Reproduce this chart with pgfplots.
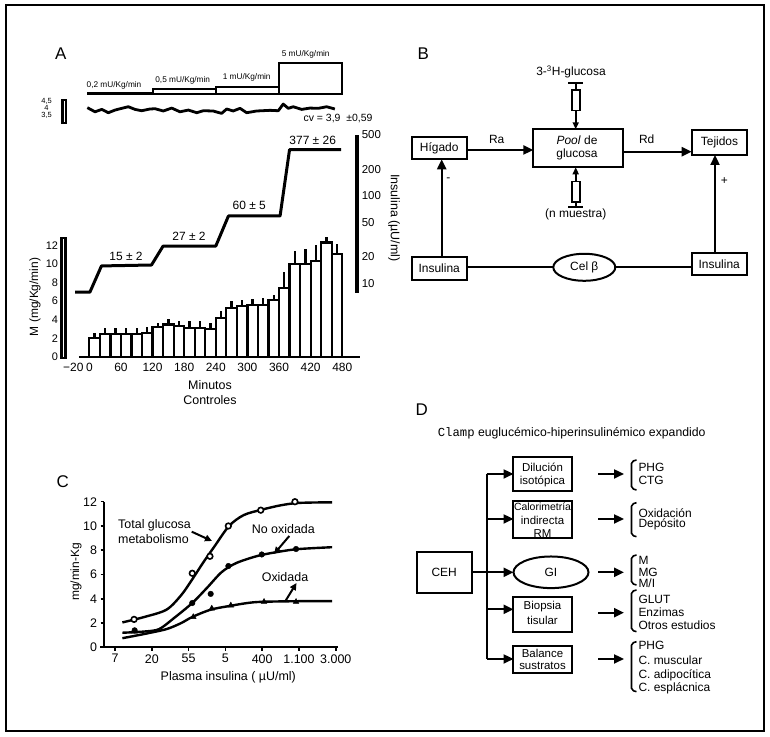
\documentclass[border=0pt]{standalone}
\usepackage{pgfplots}
\pgfplotsset{compat=1.18}
\usepackage{pgfplotstable}
\usepackage{fontspec}
\setmainfont{Liberation Sans}
\setmonofont{Liberation Mono}
\usetikzlibrary{arrows.meta}
\newcommand\fs[1]{\fontsize{#1}{#1}\selectfont}
\pgfplotsset{
  /pgf/number format/assume math mode=true,
  noarr/.style={every inner x axis line/.append style={-},
    every inner y axis line/.append style={-},
    every outer x axis line/.append style={-},
    every outer y axis line/.append style={-}},
  px/.style={anchor=south west, scale only axis},
}
\tikzset{
  barr/.style={-{Triangle[length=10bp,width=9bp]}, line width=2.2bp},
  sarr/.style={-{Triangle[length=7bp,width=6bp]}, line width=1.6bp},
  carr/.style={-{Triangle[length=7bp,width=6.5bp]}, line width=2bp},
}
\pgfplotstableread{
x y e
10 2.0 0.6
30 2.5 0.6
50 2.5 0.6
70 2.5 0.6
90 2.5 0.6
110 2.6 0.6
130 3.2 0.5
150 3.5 0.6
170 3.3 0.6
190 3.1 0.8
210 3.1 0.8
230 3.0 0.7
250 4.2 0.7
270 5.3 0.7
290 5.5 0.6
310 5.6 0.6
330 5.6 0.7
350 6.1 0.6
370 7.4 1.7
390 10.0 1.4
410 10.0 1.6
430 10.3 1.7
450 12.3 0.6
470 11.1 1.0
}\barsA
\begin{document}
\begin{tikzpicture}[x=1bp,y=1bp]
\path[fill=white] (0,0) rectangle (770,737);

% ---------- Panel A: step boxes (insulin infusion) ----------
\begin{axis}[px, at={(78.8bp,643bp)}, width=281.2bp, height=45bp,
  xmin=-20, xmax=513.7, ymin=0, ymax=45, hide axis, clip=false]
\addplot[line width=3bp] coordinates {(-4,0.6)(120,0.6)};
\addplot[line width=2bp, line join=miter] coordinates {(120,0)(120,4.7)(240,4.7)(240,0)(120,0)};
\addplot[line width=2bp, line join=miter] coordinates {(240,0)(240,7.3)(360,7.3)(360,0)(240,0)};
\addplot[line width=2bp, line join=miter] coordinates {(360,0)(360,31.3)(480,31.3)(480,0)(360,0)};
\end{axis}

% ---------- Panel A: glucose trace ----------
\begin{axis}[px, at={(78.8bp,622bp)}, width=281.2bp, height=13.3bp,
  xmin=-20, xmax=513.7, ymin=3.5, ymax=4.5, hide axis, clip=false]
\addplot[line width=2.8bp, line join=round] coordinates {
(-3.8,4.05)(10.8,3.74)(23.5,3.92)(36,3.67)(48.8,3.87)(61.5,4.0)(74,4.12)(86.7,3.92)
(99.4,3.82)(115,3.95)(124.7,3.97)(140.4,3.8)(156.3,4.02)(172,3.74)(188,3.87)(203.8,3.67)
(216.3,3.82)(235,3.8)(251,3.62)(260.7,3.95)(273,3.8)(286,4.0)(298.6,3.67)(317.6,3.8)
(343,3.85)(358.6,3.82)(368,4.32)(377.6,4.0)(387,4.12)(403,3.92)(418.8,4.02)(434.5,4.0)
(450.5,4.12)(466,3.95)};
\end{axis}
\begin{axis}[px, at={(62.5bp,613.7bp)}, width=3.5bp, height=23.3bp,
  xmin=0, xmax=1, ymin=2.876, ymax=4.628, axis line style={line width=2.2bp},
  xtick=\empty, ytick={3.5,4,4.5}, yticklabels={{3,5},4,{4,5}}, ytick style={draw=none},
  yticklabel style={anchor=center, xshift=-16bp, font=\fs{7.5}, inner sep=0pt}]
\end{axis}

% ---------- Panel A: M bars ----------
\begin{axis}[px, at={(78.8bp,380bp)}, width=281.2bp, height=120.9bp,
  xmin=-20, xmax=513.7, ymin=0, ymax=13,
  axis x line=bottom, axis y line=none, noarr,
  x axis line style={line width=2.5bp},
  xtick={0,60,...,480}, xticklabels={0,60,120,180,240,300,360,420,480},
  extra x ticks={-20}, extra x tick labels={−20},
  extra x tick style={xticklabel style={xshift=-5.5bp}},
  xtick style={draw=none}, tick label style={font=\fs{12}},
  xticklabel style={yshift=-1bp}, clip=false]
\addplot[ybar, bar width=20, fill=white, draw=black, line width=2.2bp,
  error bars/.cd, y dir=plus, y explicit, error mark=none,
  error bar style={line width=2.4bp}]
  table[x=x, y=y, y error=e]{\barsA};
\end{axis}
\begin{axis}[px, at={(61.5bp,379bp)}, width=4bp, height=120bp,
  xmin=0, xmax=1, ymin=-0.1075, ymax=12.796, axis line style={line width=2.2bp},
  xtick=\empty, ytick={0,2,...,12}, yticklabels={0,2,4,6,8,10,12},
  ytick style={draw=none}, tick label style={font=\fs{11}}]
\end{axis}

% ---------- Panel A: plasma insulin (log) ----------
\begin{axis}[px, at={(78.8bp,445bp)}, width=281.2bp, height=157bp,
  xmin=-20, xmax=513.7, ymode=log, ymin=7.95, ymax=500, hide axis, clip=false]
\addplot[line width=3bp, line join=round] coordinates {
(-27,7.9)(1,7.9)(23,15.8)(118,16.2)(140,26.7)(240,26.7)(264,59)(362,59)(380,340)(478,340)};
\end{axis}
\begin{axis}[px, at={(355bp,445bp)}, width=3.3bp, height=157bp,
  xmin=0, xmax=1, ymode=log, ymin=7.95, ymax=500,
  axis background/.style={fill=black}, axis line style={line width=0.5bp},
  xtick=\empty, ytick={10,20,50,100,200,500}, yticklabels={10,20,50,100,200,500},
  yticklabel pos=right, ytick style={draw=none}, yminorticks=false,
  tick label style={font=\fs{11.5}}]
\end{axis}

% ---------- Panel C ----------
\begin{axis}[px, at={(104bp,89.7bp)}, width=233.7bp, height=145.6bp,
  xmode=log, xmin=5.48, xmax=3140, ymin=0, ymax=12,
  axis lines=left, noarr, axis line style={line width=2bp},
  x axis line style={shorten <=-4bp},
  xtick={7.389,20.09,54.6,148.4,403.4,1096.6,2981},
  xticklabels={7,20,55,5,400,{1.100},{3.000}},
  ytick={0,2,...,12}, yticklabels={0,2,4,6,8,10,12},
  xminorticks=false, yminorticks=false,
  tick align=outside, major tick length=3.5bp, tick style={line width=1.5bp, black},
  tick label style={font=\fs{12.5}}, clip=false]
% fitted curves
\addplot[line width=2.4bp, smooth, no marks] coordinates {
(9.03,2.05)(16.44,2.5)(29.96,3.1)(44.7,4.3)(60.3,5.6)(81.45,7.0)(109.9,8.3)(164,10.0)
(244.7,10.9)(403.4,11.35)(665.1,11.7)(1096.6,11.9)(2697,11.95)};
\addplot[line width=2.4bp, smooth, no marks] coordinates {
(9.03,1.2)(16.44,1.3)(24.5,1.5)(36.6,2.4)(60.3,3.65)(90.0,4.9)(134.3,6.2)(200.3,6.95)
(365,7.55)(665,7.9)(1097,8.1)(2697,8.25)};
\addplot[line width=2.4bp, smooth, no marks] coordinates {
(9.03,0.75)(16.44,1.1)(29.96,1.5)(44.7,2.0)(60.3,2.5)(99.5,3.1)(164,3.4)(270.4,3.65)
(403.4,3.75)(1096.6,3.8)(2697,3.8)};
% measured points
\addplot[only marks, mark=*, mark size=2.8bp, mark options={fill=white, draw=black, line width=1.6bp}]
 coordinates {(12.4,2.3)(60.3,6.1)(97.5,7.5)(160.8,10.0)(387.9,11.3)(982,12.0)};
\addplot[only marks, mark=*, mark size=2.8bp, mark options={fill=black, draw=black}]
 coordinates {(12.6,1.4)(60.3,3.65)(99.5,4.4)(161,6.7)(399,7.65)(1012,8.1)};
\addplot[only marks, mark=triangle*, mark size=3.3bp, mark options={fill=black, draw=black}]
 coordinates {(12.6,1.3)(62,2.5)(102.5,3.2)(172,3.45)(424,3.75)(1012,3.75)};
\end{axis}

% ---------- text and diagrams (pixel coordinates, y downward) ----------
\begin{scope}[x=1bp, y=-1bp, yshift=737bp]
\draw[line width=1.2bp] (6,5) rectangle (764,731);

% Panel A texts
\node[font=\fs{17}, inner sep=0] at (60.7,54) {A};
\node[font=\fs{8.3}, inner sep=0] at (114,85) {0,2 mU/Kg/min};
\node[font=\fs{8.3}, inner sep=0] at (182.7,80.7) {0,5 mU/Kg/min};
\node[font=\fs{8.3}, inner sep=0] at (246.7,77.3) {1 mU/Kg/min};
\node[font=\fs{8.3}, inner sep=0] at (305.7,54) {5 mU/Kg/min};
\node[font=\fs{10.5}, inner sep=0] at (338,119) {cv = 3,9 \ ±0,59};
\node[font=\fs{12}, inner sep=0] at (126,256) {15 ± 2};
\node[font=\fs{12}, inner sep=0] at (189,236) {27 ± 2};
\node[font=\fs{12}, inner sep=0] at (249.3,205) {60 ± 5};
\node[font=\fs{12}, inner sep=0] at (312.7,140) {377 ± 26};
\node[font=\fs{12.5}, inner sep=0] at (210,385) {Minutos};
\node[font=\fs{12.5}, inner sep=0] at (210,400) {Controles};
\node[font=\fs{12}, inner sep=0, rotate=90] at (35,297) {M (mg/Kg/min)};
\node[font=\fs{12.5}, inner sep=0, rotate=-90] at (394,218) {Insulina (µU/ml)};

% Panel B
\begin{scope}[font=\fs{12}]
\node[font=\fs{17}, inner sep=0] at (423.3,53.3) {B};
\node[inner sep=0] at (571,72.3) {3-\textsuperscript{3}H-glucosa};
\draw[line width=2bp] (411.7,136.7) rectangle (466.7,159.3);
\node[inner sep=0] at (439.2,148) {Hígado};
\draw[line width=2bp] (533.3,129.3) rectangle (623.3,167.3);
\node[inner sep=0] at (577,140) {\textit{Pool} de};
\node[inner sep=0] at (577,154) {glucosa};
\draw[line width=2bp] (691.7,130) rectangle (747.3,155);
\node[inner sep=0] at (719.5,142.5) {Tejidos};
\draw[line width=2bp] (411.7,257.3) rectangle (466.7,280);
\node[inner sep=0] at (439.2,268.7) {Insulina};
\draw[line width=2bp] (691.7,253.3) rectangle (746.7,275);
\node[inner sep=0] at (719.2,264.2) {Insulina};
\draw[line width=2bp] (584.3,267.3) ellipse [x radius=31bp, y radius=13.5bp];
\node[inner sep=0] at (584.3,267.3) {Cel β};
\draw[line width=2bp] (466.7,267.3) -- (553.3,267.3);
\draw[line width=2bp] (615.3,267.3) -- (691.7,267.3);
\draw[barr] (466.7,150) -- (533.3,150);
\draw[barr] (623.3,151.7) -- (691.7,151.7);
\draw[barr] (441.7,257.3) -- (441.7,159.3);
\draw[barr] (715,253.3) -- (715,155);
\node[inner sep=0] at (496.7,139) {Ra};
\node[inner sep=0] at (646.7,139) {Rd};
\node[inner sep=0] at (448.3,180) {-};
\node[inner sep=0] at (724.3,181) {+};
% syringes
\draw[line width=1.8bp] (568,83.3) -- (583,83.3);
\draw[line width=1.6bp] (575.7,83.3) -- (575.7,90);
\draw[line width=1.6bp] (571.7,90) rectangle (580,110.7);
\draw[sarr] (575.7,110.7) -- (575.7,129.3);
\draw[sarr] (575.7,181.7) -- (575.7,167.3);
\draw[line width=1.6bp] (571.7,181.7) rectangle (580,202.3);
\draw[line width=1.6bp] (575.7,202.3) -- (575.7,206.7);
\draw[line width=1.8bp] (568,206.7) -- (583,206.7);
\node[inner sep=0] at (575.7,214.5) {(n muestra)};
\end{scope}

% Panel C texts
\node[font=\fs{17}, inner sep=0] at (62.7,481.7) {C};
\node[font=\fs{12.5}, inner sep=0, anchor=west] at (118,525.7) {Total glucosa};
\node[font=\fs{12.5}, inner sep=0, anchor=west] at (118,539.3) {metabolismo};
\node[font=\fs{12.5}, inner sep=0] at (283.3,529.3) {No oxidada};
\node[font=\fs{12.5}, inner sep=0] at (285,577.3) {Oxidada};
\draw[carr] (191.7,531.7) -- (212,541);
\draw[carr] (289.3,536) -- (274,554);
\draw[carr] (285,601.7) -- (296.5,583);
\node[font=\fs{12.5}, inner sep=0] at (228.3,677.3) {Plasma insulina ( µU/ml)};
\node[font=\fs{12}, inner sep=0, rotate=90] at (76,572) {mg/min-Kg};

% Panel D
\begin{scope}[font=\fs{12}]
\node[font=\fs{17}, inner sep=0] at (421.7,410) {D};
\node[font=\fs{12.3}, inner sep=0] at (571.7,433.3) {\texttt{Clamp} euglucémico-hiperinsulinémico expandido};
\draw[line width=2bp] (416.7,551.7) rectangle (471.7,592.7);
\node[inner sep=0] at (444.2,572.3) {CEH};
\draw[line width=2bp] (486.7,474) -- (486.7,659);
\draw[line width=2bp] (471.7,572.3) -- (486.7,572.3);
\foreach \yy in {474,519,572.3,609.3,659} {\draw[barr] (486.7,\yy) -- (513.5,\yy);}
\draw[line width=2bp] (513.3,456.7) rectangle (571.7,490.7);
\node[inner sep=0, font=\fs{11.5}] at (542.5,467.2) {Dilución};
\node[inner sep=0, font=\fs{11.5}] at (542.5,481) {isotópica};
\draw[line width=2bp] (513.3,500.7) rectangle (571.7,538.3);
\node[inner sep=0, font=\fs{10.5}] at (542.5,507) {Calorimetría};
\node[inner sep=0, font=\fs{11.5}] at (542.5,520.5) {indirecta};
\node[inner sep=0, font=\fs{11.5}] at (542.5,533.5) {RM};
\draw[line width=2bp] (551,572.3) ellipse [x radius=37.5bp, y radius=15.8bp];
\node[inner sep=0] at (551,572.3) {GI};
\draw[line width=2bp] (513.3,596.7) rectangle (571.7,631.7);
\node[inner sep=0, font=\fs{11.5}] at (542.5,607) {Biopsia};
\node[inner sep=0, font=\fs{11.5}] at (542.5,620.5) {tisular};
\draw[line width=2bp] (513.3,646) rectangle (571.7,672.7);
\node[inner sep=0, font=\fs{11.5}] at (542.5,653.5) {Balance};
\node[inner sep=0, font=\fs{11.5}] at (542.5,666) {sustratos};
\foreach \yy in {474,519,572.3,612.7,659} {\draw[barr] (598.3,\yy) -- (624,\yy);}
\foreach \ya/\yb in {460/490,502.7/536.7,555/585,590/631.7,641.7/691.7}
  {\draw[line width=1.6bp, rounded corners=2bp] (636.5,\ya) -- (631.5,\ya+1.5) -- (631.5,\yb-1.5) -- (636.5,\yb);}
\node[inner sep=0, anchor=west] at (638.3,467.7) {PHG};
\node[inner sep=0, anchor=west] at (638.3,480) {CTG};
\node[inner sep=0, anchor=west] at (638.3,512.7) {Oxidación};
\node[inner sep=0, anchor=west] at (638.3,524.3) {Depósito};
\node[inner sep=0, anchor=west] at (638.3,560.7) {M};
\node[inner sep=0, anchor=west] at (638.3,572.3) {MG};
\node[inner sep=0, anchor=west] at (638.3,583.3) {M/I};
\node[inner sep=0, anchor=west] at (638.3,599.3) {GLUT};
\node[inner sep=0, anchor=west] at (638.3,612.7) {Enzimas};
\node[inner sep=0, anchor=west] at (638.3,625) {Otros estudios};
\node[inner sep=0, anchor=west] at (638.3,645) {PHG};
\node[inner sep=0, anchor=west] at (638.3,660) {C. muscular};
\node[inner sep=0, anchor=west] at (638.3,675) {C. adipocítica};
\node[inner sep=0, anchor=west] at (638.3,688.3) {C. esplácnica};
\end{scope}
\end{scope}

\pgfresetboundingbox
\useasboundingbox (0,0) rectangle (770,737);
\end{tikzpicture}
\end{document}
